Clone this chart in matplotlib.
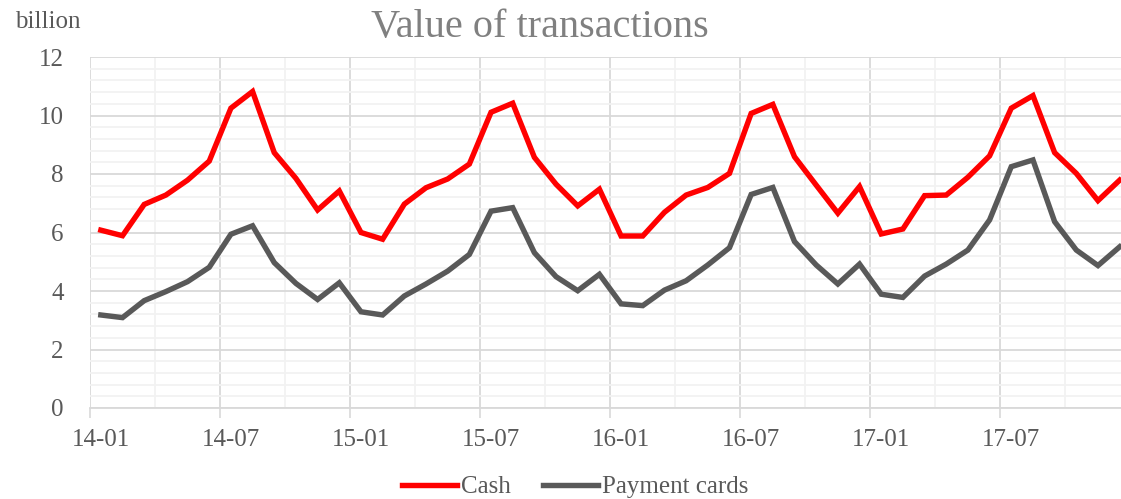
import matplotlib
matplotlib.use("Agg")
import matplotlib.pyplot as plt
import numpy as np

plt.rcParams['font.family'] = ['Liberation Serif', 'DejaVu Serif']

# monthly data, 2014-01 .. 2017-12 (billion)
months = [f"{y:02d}-{m:02d}" for y in range(14, 18) for m in range(1, 13)]
cash = [6.08, 5.89, 6.96, 7.28, 7.79, 8.44, 10.25, 10.82, 8.73, 7.85, 6.77, 7.42,
        6.00, 5.77, 6.97, 7.53, 7.83, 8.34, 10.11, 10.42, 8.57, 7.65, 6.91, 7.48,
        5.88, 5.88, 6.69, 7.28, 7.54, 8.02, 10.07, 10.38, 8.59, 7.62, 6.66, 7.57,
        5.95, 6.12, 7.26, 7.28, 7.89, 8.62, 10.25, 10.68, 8.73, 8.02, 7.09, 7.79]
cards = [3.18, 3.09, 3.67, 3.98, 4.32, 4.81, 5.94, 6.23, 4.97, 4.26, 3.71, 4.28,
         3.29, 3.18, 3.83, 4.24, 4.68, 5.25, 6.73, 6.85, 5.31, 4.49, 4.01, 4.57,
         3.56, 3.50, 4.03, 4.35, 4.89, 5.48, 7.30, 7.54, 5.69, 4.89, 4.24, 4.92,
         3.89, 3.78, 4.51, 4.92, 5.40, 6.43, 8.25, 8.48, 6.37, 5.40, 4.87, 5.51]

x = np.arange(len(months))

fig = plt.figure(figsize=(11.21, 4.99), dpi=100)
ax = fig.add_axes([90 / 1121, 91 / 499, 1040.5 / 1121, 351 / 499])

ax.plot(x, cash, color='#ff0000', lw=3.9, label='Cash', solid_joinstyle='miter', zorder=3)
ax.plot(x, cards, color='#595959', lw=3.9, label='Payment cards', solid_joinstyle='miter', zorder=3)

ax.set_xlim(-0.5, len(months) - 0.5)
ax.set_ylim(0, 12)

# gridlines sit between categories
ax.set_xticks(np.arange(-0.5, len(months), 6))
ax.set_xticks(np.arange(-0.5, len(months), 3), minor=True)
ax.set_yticks(np.arange(0, 12.1, 2))
ax.set_yticks(np.arange(0, 12.01, 0.4), minor=True)
ax.tick_params(axis='x', which='major', length=7, width=1.2, color='#d9d9d9', labelbottom=False)
ax.tick_params(axis='x', which='minor', length=0)
ax.tick_params(axis='y', which='both', length=0)
ax.tick_params(axis='y', labelsize=18, labelcolor='#595959', pad=19)
ax.grid(which='major', color='#d9d9d9', lw=1.3, zorder=0)
ax.grid(which='minor', color='#f2f2f2', lw=1.3, zorder=0)
ax.set_axisbelow(True)
for s in ['top', 'right', 'left']:
    ax.spines[s].set_visible(False)
ax.spines['bottom'].set_color('#d9d9d9')
ax.spines['bottom'].set_linewidth(1.3)

# category labels at centres
sec = ax.secondary_xaxis('bottom')
sec.set_xticks(x[::6], [months[i] for i in x[::6]])
sec.tick_params(length=0, labelsize=18, labelcolor='#595959', pad=15)
sec.spines['bottom'].set_visible(False)

fig.text(540 / 1121, 1 - 28 / 499, 'Value of transactions', ha='center', va='center',
         fontsize=29, color='#808080')
fig.text(15 / 1121, 1 - 22 / 499, 'billion', ha='left', va='center', fontsize=18, color='#595959')

fig.legend(loc='center', bbox_to_anchor=(575 / 1121, 1 - 487 / 499), ncol=2, frameon=False,
           fontsize=18, handlelength=2.2, handletextpad=0.15, columnspacing=1.3,
           labelcolor='#595959')

fig.savefig('out.png', dpi=100)
